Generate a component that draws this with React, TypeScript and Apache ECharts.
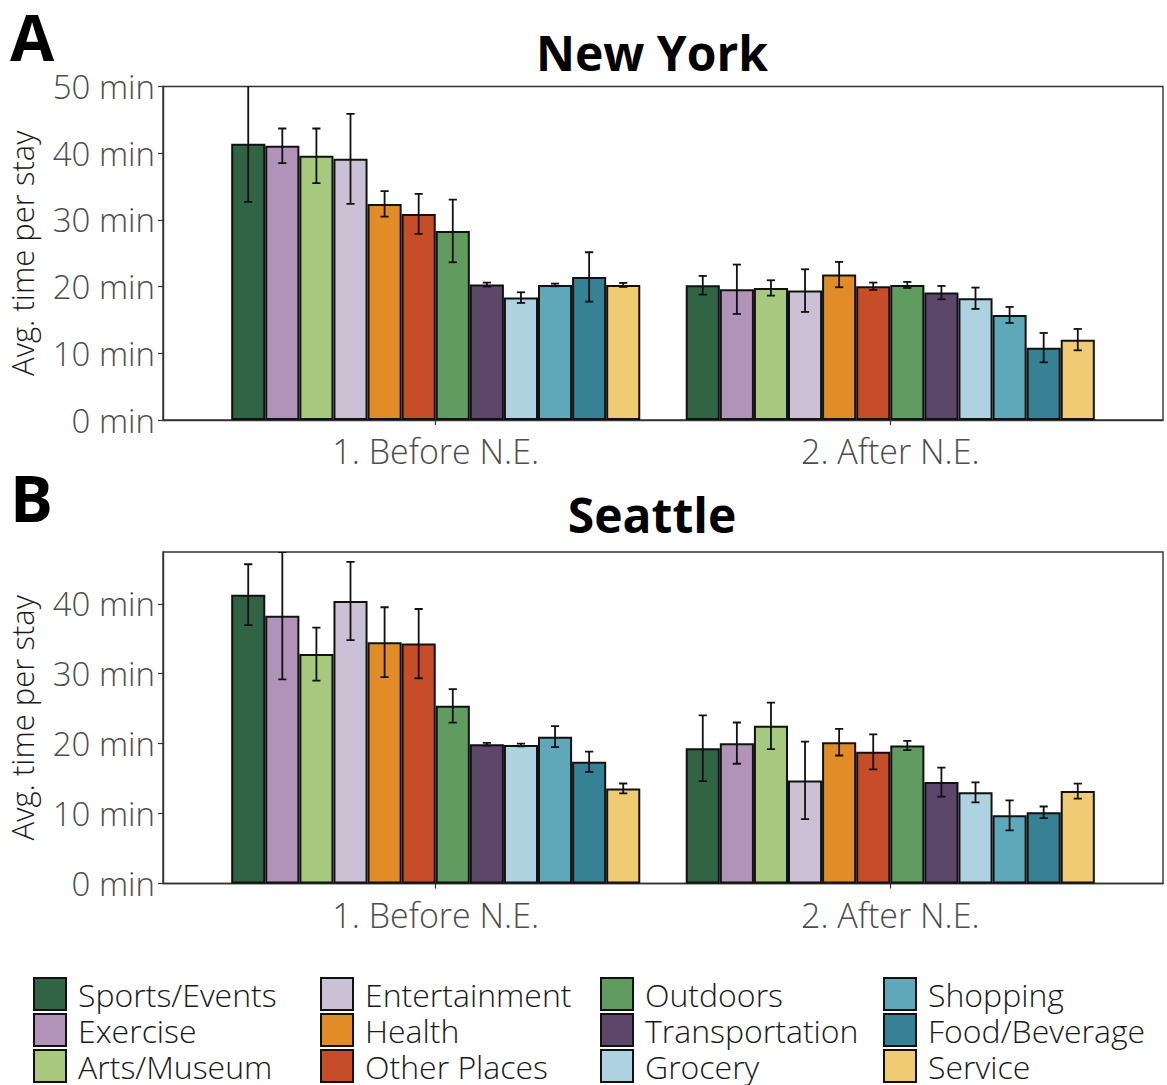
import React, { useEffect, useRef } from "react";
import * as echarts from "echarts";

// Place categories, in drawing order, with their fill colours
const PLACES = [
  "Sports/Events", "Exercise", "Arts/Museum", "Entertainment",
  "Health", "Other Places", "Outdoors", "Transportation",
  "Grocery", "Shopping", "Food/Beverage", "Service",
];
const COLORS = [
  "#316345", "#b193b9", "#a7c97d", "#cac1d4",
  "#e28c28", "#c74c28", "#609b60", "#5c476b",
  "#aed2e0", "#5ea8ba", "#368193", "#f0cb74",
];
const PERIODS = ["1. Before N.E.", "2. After N.E."];

// New York: mean minutes per stay and error half-widths
const NY_BEFORE = [41.4, 41.1, 39.6, 39.15, 32.4, 30.9, 28.35, 20.3, 18.35, 20.25, 21.45, 20.25];
const NY_BEFORE_ERR = [8.7, 2.6, 4.1, 6.75, 1.9, 3.0, 4.7, 0.3, 0.8, 0.2, 3.7, 0.3];
const NY_AFTER = [20.2, 19.6, 19.8, 19.4, 21.8, 20.05, 20.25, 19.1, 18.25, 15.75, 10.85, 12.05];
const NY_AFTER_ERR = [1.4, 3.7, 1.15, 3.2, 1.9, 0.55, 0.45, 1.0, 1.6, 1.2, 2.2, 1.6];

// Seattle: mean minutes per stay and error half-widths
const SEA_BEFORE = [41.3, 38.3, 32.8, 40.4, 34.5, 34.3, 25.4, 19.9, 19.8, 21.0, 17.4, 13.6];
const SEA_BEFORE_ERR = [4.35, 9.1, 3.8, 5.6, 5.0, 4.95, 2.4, 0.2, 0.2, 1.5, 1.45, 0.7];
const SEA_AFTER = [19.35, 20.07, 22.54, 14.74, 20.2, 18.83, 19.73, 14.5, 13.03, 9.75, 10.18, 13.22];
const SEA_AFTER_ERR = [4.7, 2.95, 3.33, 5.54, 1.9, 2.5, 0.67, 2.07, 1.43, 2.14, 0.83, 1.07];

// Axis ticks
const NY_TICKS = [0, 10, 20, 30, 40, 50];
const NY_MAX = 50;
const SEA_TICKS = [0, 10, 20, 30, 40];
const SEA_MAX = 47.4;

const FONT = "'Open Sans', 'DejaVu Sans', sans-serif";
const TICK_GREY = "#4d4d4d";
const FRAME = "#333333";
const EDGE = "#111111";

// Panel geometry
const PLOT_LEFT = 163;
const PLOT_RIGHT = 1163;
const X_MIN = 0.4;
const X_MAX = 2.6;
const DODGE = 0.9;
const BAR_W = ((PLOT_RIGHT - PLOT_LEFT) / (X_MAX - X_MIN)) * DODGE / PLACES.length;

const panels = [
  { title: "New York", tag: "A", before: NY_BEFORE, beforeErr: NY_BEFORE_ERR, after: NY_AFTER, afterErr: NY_AFTER_ERR, ticks: NY_TICKS, max: NY_MAX, top: 86.5, bottomY: 420, titleY: 52, tagY: 36 },
  { title: "Seattle", tag: "B", before: SEA_BEFORE, beforeErr: SEA_BEFORE_ERR, after: SEA_AFTER, afterErr: SEA_AFTER_ERR, ticks: SEA_TICKS, max: SEA_MAX, top: 552, bottomY: 883.5, titleY: 514, tagY: 497 },
];

function buildOption() {
  const grid: any[] = [];
  const xAxis: any[] = [];
  const yAxis: any[] = [];
  const series: any[] = [];
  const graphic: any[] = [];

  panels.forEach((p, g) => {
    grid.push({
      left: PLOT_LEFT,
      right: 1167 - PLOT_RIGHT,
      top: p.top,
      bottom: 1085 - p.bottomY,
      outerBoundsMode: "none",
      containLabel: false,
      show: true,
      borderColor: FRAME,
      borderWidth: 1.4,
      backgroundColor: "transparent",
    });
    xAxis.push({
      type: "value",
      gridIndex: g,
      min: X_MIN,
      max: X_MAX,
      axisLine: { show: true, lineStyle: { color: FRAME, width: 1.4 } },
      axisTick: { show: true, length: 5, customValues: [1, 2], lineStyle: { color: FRAME, width: 1.2 } },
      axisLabel: {
        customValues: [1, 2],
        formatter: (v: number) => PERIODS[Math.round(v) - 1] ?? "",
        color: TICK_GREY,
        fontFamily: FONT,
        fontWeight: 300,
        fontSize: 34,
        margin: 14,
      },
      splitLine: { show: false },
    });
    yAxis.push({
      type: "value",
      gridIndex: g,
      min: 0,
      max: p.max,
      name: "Avg. time per stay",
      nameLocation: "middle",
      nameGap: 124,
      nameTextStyle: { fontFamily: FONT, fontWeight: 300, fontSize: 31, lineHeight: 34, color: "#1a1a1a" },
      axisLine: { show: true, lineStyle: { color: FRAME, width: 1.4 } },
      axisTick: { show: true, length: 5, customValues: p.ticks, lineStyle: { color: FRAME, width: 1.2 } },
      axisLabel: {
        customValues: p.ticks,
        formatter: (v: number) => `${v} min`,
        color: TICK_GREY,
        fontFamily: FONT,
        fontWeight: 300,
        fontSize: 33,
        margin: 8,
      },
      splitLine: { show: false },
    });

    PLACES.forEach((place, i) => {
      series.push({
        type: "bar",
        name: place,
        xAxisIndex: g,
        yAxisIndex: g,
        barWidth: BAR_W,
        barGap: "0%",
        data: [[1, p.before[i]], [2, p.after[i]]],
        itemStyle: { color: COLORS[i], borderColor: EDGE, borderWidth: 2 },
        emphasis: { disabled: true },
        z: 2,
      });
    });

    // Error bars, dodged to sit over their bars
    const errData: number[][] = [];
    PLACES.forEach((_, i) => {
      errData.push([1, p.before[i], p.beforeErr[i], i]);
      errData.push([2, p.after[i], p.afterErr[i], i]);
    });
    series.push({
      type: "custom",
      name: "err",
      xAxisIndex: g,
      yAxisIndex: g,
      data: errData,
      z: 5,
      clip: true,
      silent: true,
      renderItem: (params: any, api: any) => {
        const x = api.value(0);
        const m = api.value(1);
        const e = api.value(2);
        const k = api.value(3);
        const bw = api.size([DODGE / PLACES.length, 0])[0];
        const c = api.coord([x, m]);
        const cx = c[0] + (k - (PLACES.length - 1) / 2) * bw;
        const yTop = api.coord([x, m + e])[1];
        const yBot = api.coord([x, Math.max(0, m - e)])[1];
        const half = bw * 0.12;
        const style = { stroke: EDGE, lineWidth: 1.8 };
        return {
          type: "group",
          children: [
            { type: "line", shape: { x1: cx, y1: yTop, x2: cx, y2: yBot }, style },
            { type: "line", shape: { x1: cx - half, y1: yTop, x2: cx + half, y2: yTop }, style },
            { type: "line", shape: { x1: cx - half, y1: yBot, x2: cx + half, y2: yBot }, style },
          ],
        };
      },
    });

    graphic.push({
      type: "text",
      x: 10,
      y: p.tagY,
      style: {
        text: p.tag,
        fontFamily: FONT,
        fontWeight: 700,
        fontSize: 64,
        fill: "#000",
        textAlign: "left",
        textVerticalAlign: "middle",
      },
    });
    graphic.push({
      type: "text",
      x: 652,
      y: p.titleY,
      style: {
        text: p.title,
        fontFamily: FONT,
        fontWeight: 700,
        fontSize: 48,
        fill: "#000",
        textAlign: "center",
        textVerticalAlign: "middle",
      },
    });
  });

  // Legend: four columns of three entries
  const colX = [33, 320, 600, 883];
  const legend = colX.map((x, c) => ({
    orient: "vertical",
    left: x,
    top: 977,
    height: 160,
    padding: 0,
    itemWidth: 32,
    itemHeight: 32,
    itemGap: 2,
    icon: "rect",
    selectedMode: false,
    data: PLACES.slice(c * 3, c * 3 + 3),
    itemStyle: { borderColor: EDGE, borderWidth: 2 },
    textStyle: {
      fontFamily: FONT,
      fontWeight: 300,
      fontSize: 32,
      lineHeight: 32,
      color: "#1a1a1a",
      padding: [0, 0, 0, 7],
    },
  }));

  return {
    animation: false,
    backgroundColor: "#ffffff",
    textStyle: { fontFamily: FONT },
    grid,
    xAxis,
    yAxis,
    series,
    legend,
    graphic,
  };
}

export default function App() {
  const ref = useRef<HTMLDivElement>(null);
  useEffect(() => {
    if (!ref.current) return;
    const chart = echarts.init(ref.current, undefined, { renderer: "svg" });
    chart.setOption(buildOption() as any);
    return () => chart.dispose();
  }, []);
  return (
    <div
      ref={ref}
      style={{ position: "fixed", left: 0, top: 0, width: 1167, height: 1085 }}
    />
  );
}
